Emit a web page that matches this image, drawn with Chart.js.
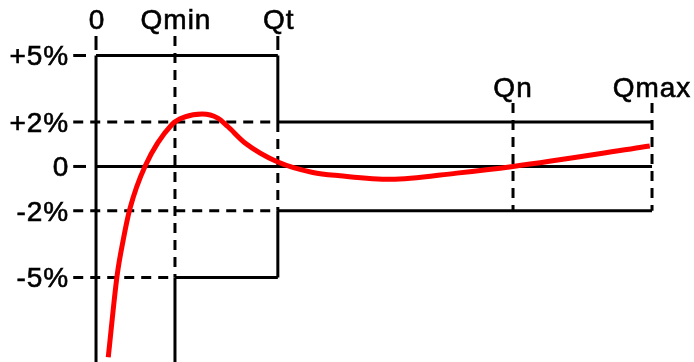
<!DOCTYPE html>
<html>
<head>
<meta charset="utf-8">
<title>Error curve</title>
<script src="https://cdn.jsdelivr.net/npm/chart.js@4/dist/chart.umd.min.js"></script>
<style>
  html, body { margin: 0; padding: 0; background: #fff; }
  #wrap { width: 694px; height: 362px; position: relative; }
</style>
</head>
<body>
<div id="wrap"><canvas id="errChart"></canvas></div>
<script>
// flow points on the x axis (schematic units)
const Q0 = 0, Qmin = 1.42, Qt = 3.27, Qn = 7.5, Qmax = 10;
const xLabelsTop = ["0", "Qmin", "Qt"];
const xValuesTop = [Q0, Qmin, Qt];
const xLabelsMid = ["Qn", "Qmax"];
const xValuesMid = [Qn, Qmax];

// error limits (%)
const yTickValues = [5, 2, 0, -2, -5];
const yTickLabels = ["+5%", "+2%", "0", "-2%", "-5%"];

// measured error curve
const curveQ   = [0.22, 0.38, 0.49, 0.61, 0.88, 1.37, 1.60, 1.91, 2.19, 2.37, 2.68, 3.27, 3.90, 4.39, 5.30, 6.49, 7.5, 9.96];
const curveErr = [-8.6, -4.9, -3.3, -1.9, 0.0, 1.9, 2.23, 2.36, 2.18, 1.8, 1.06, 0.2, -0.27, -0.42, -0.58, -0.3, 0.0, 0.92];

const xMin = -1.727, xMax = 10.755, yMin = -8.81, yMax = 7.5;
const tickL = -0.41, tickR = -0.18, topTick = 5.88, midTop = 2.86;

// envelope segments: [x1, y1, x2, y2]
const solidSegs = [
  [Q0, 5, Q0, yMin],
  [Q0, topTick, Q0, 5.25],
  [Qt, topTick, Qt, 5.25],
  [Q0, 5, Qt, 5],
  [Qt, 5, Qt, 2],
  [Qt, -2, Qt, -5],
  [Qt, 2, Qmax, 2],
  [tickL, 5, tickR, 5],
  [tickL, 0, tickR, 0],
  [Q0, 0, Qmax, 0],
  [Qt, -2, Qmax, -2],
  [Qmin, -5, Qt, -5],
  [Qmin, -5, Qmin, yMin]
];
const dashedSegs = [
  [Qmin, topTick, Qmin, -5],
  [Qt, 2, Qt, -2],
  [tickL, 2, Qt, 2],
  [tickL, -2, Qt, -2],
  [tickL, -5, Qmin, -5],
  [Qn, midTop, Qn, -2],
  [Qmax, midTop, Qmax, -2]
];

function segDataset(s, dashed) {
  return {
    data: [{ x: s[0], y: s[1] }, { x: s[2], y: s[3] }],
    borderColor: "#000",
    borderWidth: 3,
    borderDash: dashed ? [10, 7] : [],
    borderCapStyle: "butt",
    pointRadius: 0,
    tension: 0,
    order: 2
  };
}

const datasets = [];
solidSegs.forEach(s => datasets.push(segDataset(s, false)));
dashedSegs.forEach(s => datasets.push(segDataset(s, true)));
datasets.push({
  data: curveQ.map((q, i) => ({ x: q, y: curveErr[i] })),
  borderColor: "#ff0000",
  borderWidth: 5,
  pointRadius: 0,
  cubicInterpolationMode: "monotone",
  order: 1
});

const labelPlugin = {
  id: "labels",
  afterDraw(chart) {
    const ctx = chart.ctx;
    const xs = chart.scales.x, ys = chart.scales.y;
    ctx.save();
    ctx.fillStyle = "#000";
    ctx.strokeStyle = "#000";
    ctx.lineWidth = 0.6;
    ctx.font = '28px "Liberation Sans", Arial, sans-serif';
    ctx.letterSpacing = "1px";
    const put = (t, x, y) => { ctx.fillText(t, x, y); ctx.strokeText(t, x, y); };
    ctx.textAlign = "right";
    ctx.textBaseline = "middle";
    yTickValues.forEach((v, i) => {
      put(yTickLabels[i], xs.getPixelForValue(tickL) - 4, ys.getPixelForValue(v) + 2);
    });
    ctx.textAlign = "center";
    ctx.textBaseline = "alphabetic";
    xValuesTop.forEach((v, i) => {
      put(xLabelsTop[i], xs.getPixelForValue(v) + 1, 29);
    });
    xValuesMid.forEach((v, i) => {
      put(xLabelsMid[i], xs.getPixelForValue(v), 97);
    });
    ctx.restore();
  }
};

new Chart(document.getElementById("errChart"), {
  type: "line",
  data: { datasets: datasets },
  options: {
    responsive: true,
    maintainAspectRatio: false,
    animation: false,
    layout: { padding: 0 },
    plugins: { legend: { display: false }, tooltip: { enabled: false } },
    scales: {
      x: { type: "linear", min: xMin, max: xMax, display: false },
      y: { type: "linear", min: yMin, max: yMax, display: false }
    }
  },
  plugins: [labelPlugin]
});
</script>
</body>
</html>
